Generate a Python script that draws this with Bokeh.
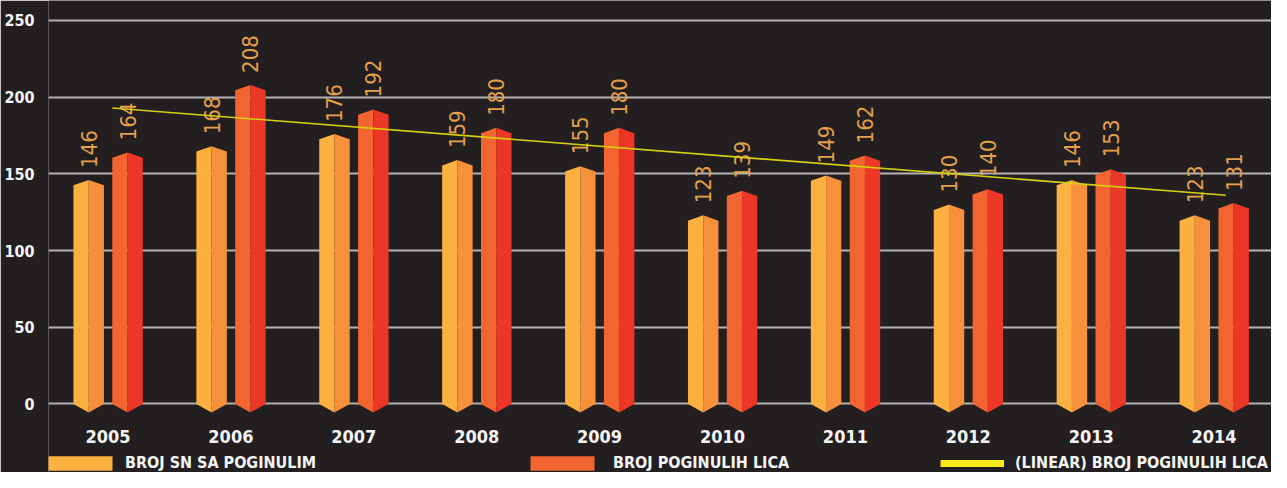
import numpy as np
from bokeh.plotting import figure
from bokeh.models import Range1d, FixedTicker, Legend, LegendItem, ColumnDataSource
from bokeh.embed import file_html
from bokeh.resources import INLINE
from bokeh.core.properties import value

# ---------------- data ----------------
years = ["2005", "2006", "2007", "2008", "2009", "2010", "2011", "2012", "2013", "2014"]
broj_sn = [146, 168, 176, 159, 155, 123, 149, 130, 146, 123]          # BROJ SN SA POGINULIM
broj_poginulih = [164, 208, 192, 180, 180, 139, 162, 140, 153, 131]   # BROJ POGINULIH LICA
y_ticks = [0, 50, 100, 150, 200, 250]

label_sn = "BROJ SN SA POGINULIM"
label_pog = "BROJ POGINULIH LICA"
label_trend = "(LINEAR) BROJ POGINULIH LICA"

# ---------------- style ----------------
BG = "#231f20"
GRID = "#b3b3b3"
FONT = "DejaVu Sans Condensed, Roboto"
VAL_COLOR = "#e5a04c"
OR_L, OR_R = "#fcb040", "#f6903a"
RD_L, RD_R = "#f26430", "#ec3626"

W, H = 1271, 472
p = figure(width=W, height=H, output_backend="svg", toolbar_location=None,
           x_range=Range1d(-0.484, 9.467), y_range=Range1d(-44.65, 263.0),
           min_border_left=48, min_border_right=0, min_border_top=0, min_border_bottom=0)
p.background_fill_color = BG
p.border_fill_color = BG
p.outline_line_color = None

xi = np.arange(len(years))
half = 0.124
top_drop = 3.5
bot_drop = 5.5

def prism(offset, vals):
    lxs, lys, rxs, rys = [], [], [], []
    for i, v in zip(xi, vals):
        c = i + offset
        l, r = c - half, c + half
        lxs.append([l, l, c, c]); lys.append([0, v - top_drop, v, -bot_drop])
        rxs.append([c, c, r, r]); rys.append([-bot_drop, v, v - top_drop, 0])
    return lxs, lys, rxs, rys

off_sn, off_pog = -0.157, 0.159

lxs, lys, rxs, rys = prism(off_sn, broj_sn)
sn_left = p.patches(lxs, lys, fill_color=OR_L, line_color=None)
p.patches(rxs, rys, fill_color=OR_R, line_color=None)

lxs, lys, rxs, rys = prism(off_pog, broj_poginulih)
pog_left = p.patches(lxs, lys, fill_color=RD_L, line_color=None)
p.patches(rxs, rys, fill_color=RD_R, line_color=None)

# value labels
for off, vals in ((off_sn, broj_sn), (off_pog, broj_poginulih)):
    src = ColumnDataSource(dict(x=xi + off, y=vals, t=[str(v) for v in vals]))
    p.text(x="x", y="y", text="t", source=src, angle=np.pi / 2, y_offset=-12,
           text_align="left", text_baseline="middle", text_color=VAL_COLOR,
           text_font=value(FONT), text_font_size="22px")

# linear trend of BROJ POGINULIH LICA
k, b = np.polyfit(xi, broj_poginulih, 1)
tx = np.array([xi[0] + 0.035, xi[-1] + 0.095])
p.line(tx, k * tx + b, line_color="#d6d010", line_width=1.6)
trend_leg = p.line([np.nan], [np.nan], line_color="#f8e81c", line_width=7)

# axes
p.xaxis.ticker = FixedTicker(ticks=list(xi))
p.xaxis.major_label_overrides = {int(i): y for i, y in zip(xi, years)}
p.xaxis.fixed_location = 0
p.yaxis.ticker = FixedTicker(ticks=y_ticks)
for ax in (p.xaxis, p.yaxis):
    ax.axis_line_color = None
    ax.major_tick_line_color = None
    ax.minor_tick_line_color = None
    ax.major_tick_out = 0
    ax.major_tick_in = 0
    ax.major_label_text_color = "#f4f4f4"
    ax.major_label_text_font = FONT
    ax.major_label_text_font_style = "bold"
p.xaxis.major_label_text_font_size = "18px"
p.xaxis.major_label_standoff = 26
p.yaxis.major_label_text_font_size = "16px"
p.yaxis.major_label_standoff = 14

p.xgrid.grid_line_color = None
p.ygrid.ticker = FixedTicker(ticks=y_ticks)
p.ygrid.grid_line_color = GRID
p.ygrid.grid_line_width = 2
p.ygrid.level = "underlay"

def mk_legend(label, rend, x, gw, standoff):
    lg = Legend(items=[LegendItem(label=label, renderers=[rend])], location=(x, 0),
                orientation="horizontal", glyph_width=gw, glyph_height=18,
                label_standoff=standoff, padding=0, margin=0, spacing=0,
                border_line_color=None, background_fill_alpha=0,
                label_text_color="#f4f4f4", label_text_font=FONT,
                label_text_font_style="bold", label_text_font_size="16px",
                label_height=18, label_text_baseline="middle")
    p.add_layout(lg)

mk_legend(label_sn, sn_left, -8, 80, 5)
mk_legend(label_pog, pog_left, 474, 80, 11)
mk_legend(label_trend, trend_leg, 892, 64, 11)

open("out.html", "w").write(file_html(p, INLINE))
